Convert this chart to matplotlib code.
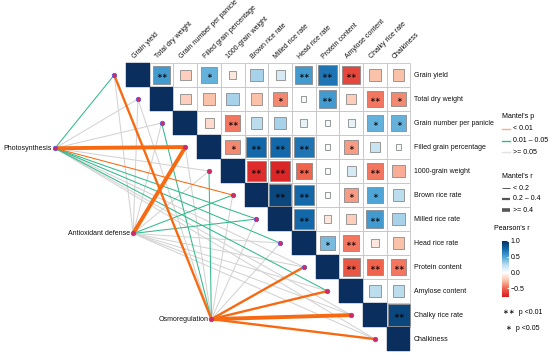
import numpy as np
import matplotlib
matplotlib.use("Agg")
import matplotlib.pyplot as plt
from matplotlib.patches import Rectangle
from matplotlib.colors import LinearSegmentedColormap, Normalize
from matplotlib.colorbar import ColorbarBase

plt.rcParams['font.family'] = ['Liberation Sans', 'DejaVu Sans']

# variables of the correlation matrix
variables = ["Grain yield", "Total dry weight", "Grain number per panicle",
             "Filled grain percentage", "1000-grain weight", "Brown rice rate",
             "Milled rice rate", "Head rice rate", "Protein content",
             "Amylose content", "Chalky rice rate", "Chalkiness"]

# Pearson's r, upper triangle, row by row (diagonal excluded)
pearson_rows = [
    [0.55, -0.20, 0.45, -0.10, 0.30, 0.15, 0.55, 0.70, -0.60, -0.25, -0.25],
    [-0.20, -0.25, 0.30, -0.25, -0.40, 0.05, 0.55, -0.20, -0.45, -0.40],
    [-0.15, -0.45, 0.25, 0.30, 0.10, 0.05, 0.10, 0.45, 0.45],
    [-0.40, 0.75, 0.75, 0.70, 0.03, -0.35, 0.20, 0.05],
    [-0.70, -0.72, -0.50, 0.02, 0.15, -0.45, -0.30],
    [0.90, 0.75, 0.03, -0.35, 0.50, 0.25],
    [0.75, -0.10, -0.20, 0.55, 0.30],
    [0.40, -0.45, -0.10, -0.25],
    [-0.55, -0.50, -0.45],
    [0.25, 0.25],
    [0.90],
]
signif_rows = [
    ['**', '', '*', '', '', '', '**', '**', '**', '', ''],
    ['', '', '', '', '*', '', '**', '', '**', '*'],
    ['', '**', '', '', '', '', '', '*', '*'],
    ['*', '**', '**', '**', '', '*', '', ''],
    ['**', '**', '**', '', '', '**', ''],
    ['**', '**', '', '*', '*', ''],
    ['**', '', '', '**', ''],
    ['*', '**', '', ''],
    ['**', '**', '**'],
    ['', ''],
    ['**'],
]

# Mantel test results: env group -> p and r for each variable
env_names = ["Photosynthesis", "Antioxidant defense", "Osmoregulation"]
mantel_p = [
    [0.03, 0.30, 0.40, 0.001, 0.20, 0.008, 0.02, 0.03, 0.30, 0.04, 0.50, 0.60],
    [0.40, 0.30, 0.20, 0.001, 0.30, 0.02, 0.03, 0.40, 0.50, 0.30, 0.60, 0.50],
    [0.005, 0.30, 0.02, 0.20, 0.03, 0.40, 0.30, 0.20, 0.002, 0.004, 0.001, 0.003],
]
mantel_r = [
    [0.15, 0.10, 0.10, 0.45, 0.10, 0.15, 0.15, 0.15, 0.10, 0.15, 0.05, 0.05],
    [0.10, 0.10, 0.10, 0.50, 0.10, 0.15, 0.15, 0.10, 0.05, 0.10, 0.05, 0.05],
    [0.30, 0.10, 0.15, 0.10, 0.15, 0.10, 0.10, 0.10, 0.30, 0.30, 0.45, 0.30],
]
# anchor of each env group, in cell units
env_x = [-3.5, -0.2, 3.1]
env_y = [3.05, 6.6, 10.17]

n = len(variables)
R = np.eye(n)
S = [[''] * n for _ in range(n)]
for i, (vals, sig) in enumerate(zip(pearson_rows, signif_rows)):
    for k, (v, s) in enumerate(zip(vals, sig)):
        R[i, i + 1 + k] = v
        S[i][i + 1 + k] = s

cmap = LinearSegmentedColormap.from_list("pr", [
    (0.00, "#D7191F"), (0.153, "#F0644E"), (0.294, "#FBC2AA"),
    (0.435, "#FFFFFF"), (0.576, "#BCDDEE"), (0.718, "#4FA6D6"),
    (0.859, "#1368AA"), (1.00, "#06305E")])
norm = Normalize(vmin=-0.77, vmax=1.0)

fig = plt.figure(figsize=(5.5, 3.53), dpi=100)
ax = fig.add_axes([0, 0, 1, 1])
ax.set_xlim(-5.82, 17.39)
ax.set_ylim(11.58, -3.125)
ax.axis('off')

FS = 5.0

# Mantel links
def link_style(p, r):
    if p < 0.01:
        col = '#F76A12'
    elif p < 0.05:
        col = '#33B98C'
    else:
        col = '#D3D3D3'
    if r < 0.2:
        lw = 0.75
    elif r < 0.4:
        lw = 1.7
    else:
        lw = 2.8
    return col, lw

order = {'#D3D3D3': 1, '#33B98C': 2, '#F76A12': 3}
links = []
for e in range(len(env_names)):
    for v in range(n):
        col, lw = link_style(mantel_p[e][v], mantel_r[e][v])
        links.append((order[col], e, v, col, lw))
for z, e, v, col, lw in sorted(links):
    ax.plot([env_x[e], v - 1], [env_y[e], v], color=col, lw=lw,
            solid_capstyle='butt', zorder=z)

# nodes
ax.plot(np.arange(n) - 1, np.arange(n), 'o', ms=3.2, mfc='#E0245A',
        mec='#5A5AD8', mew=0.6, zorder=5)
ax.plot(env_x, env_y, 'o', ms=3.2, mfc='#E0245A', mec='#5A5AD8',
        mew=0.6, zorder=5)
for e, name in enumerate(env_names):
    ax.text(env_x[e] - 0.13, env_y[e], name, ha='right', va='center',
            fontsize=FS, color='#111111', zorder=6)

# heatmap
for i in range(n):
    for j in range(i, n):
        if i == j:
            ax.add_patch(Rectangle((j - 0.5, i - 0.5), 1, 1, fc='#0A2F5E',
                                   ec='#0A2F5E', lw=0.3, zorder=6))
            continue
        ax.add_patch(Rectangle((j - 0.5, i - 0.5), 1, 1, fc='white',
                               ec='#C4C4C4', lw=0.6, zorder=6))
        r = R[i, j]
        s = max(0.22, 0.98 * np.sqrt(abs(r)))
        ax.add_patch(Rectangle((j - s / 2, i - s / 2), s, s, fc=cmap(norm(r)),
                               ec='#8A8A8A', lw=0.6, zorder=7))
        if S[i][j]:
            ax.text(j, i + 0.08, S[i][j].replace('*', '\u2217'), ha='center',
                    va='center', fontsize=FS, color='black', zorder=8)

for j, name in enumerate(variables):
    ax.text(j - 0.1, -0.62, name, rotation=45, ha='left', va='bottom',
            rotation_mode='anchor', fontsize=FS, color='#111111')
    ax.text(n - 0.5 + 0.15, j, name, ha='left', va='center',
            fontsize=FS, color='#111111')

# legends (pixel coordinates)
lg = fig.add_axes([0, 0, 1, 1], facecolor='none')
lg.set_xlim(0, 550)
lg.set_ylim(353, 0)
lg.axis('off')

lg.text(502, 117, "Mantel's p", fontsize=FS, va='center')
for y, col, lab in [(129, '#F9B08A', "< 0.01"), (141, '#33B98C', "0.01 \u2013 0.05"),
                    (152, '#E2E2E2', ">= 0.05")]:
    lg.plot([502, 510], [y, y], color=col, lw=1.0)
    lg.text(513, y, lab, fontsize=FS, va='center')

lg.text(502, 176, "Mantel's r", fontsize=FS, va='center')
for y, lw, lab in [(188, 0.7, "< 0.2"), (199, 1.6, "0.2 \u2013 0.4"),
                   (210, 2.6, ">= 0.4")]:
    lg.plot([502, 510], [y, y], color='#555555', lw=lw, solid_capstyle='butt')
    lg.text(513, y, lab, fontsize=FS, va='center')

lg.text(512, 229, "Pearson's r", fontsize=FS, va='center', ha='center')
cax = fig.add_axes([502 / 550, 1 - 297 / 353, 6.5 / 550, 56 / 353])
cb = ColorbarBase(cax, cmap=cmap, norm=norm, ticks=[1.0, 0.5, 0.0, -0.5])
cb.outline.set_visible(False)
cb.ax.tick_params(labelsize=FS, length=1.5, color='white', direction='in', pad=1.5)
cb.ax.set_yticklabels(['1.0', '0.5', '0.0', '\u22120.5'])

lg.text(503, 313, "\u2217\u2217  p <0.01", fontsize=FS, va='center')
lg.text(506, 329, "\u2217  p <0.05", fontsize=FS, va='center')

fig.savefig("out.png", dpi=100)
